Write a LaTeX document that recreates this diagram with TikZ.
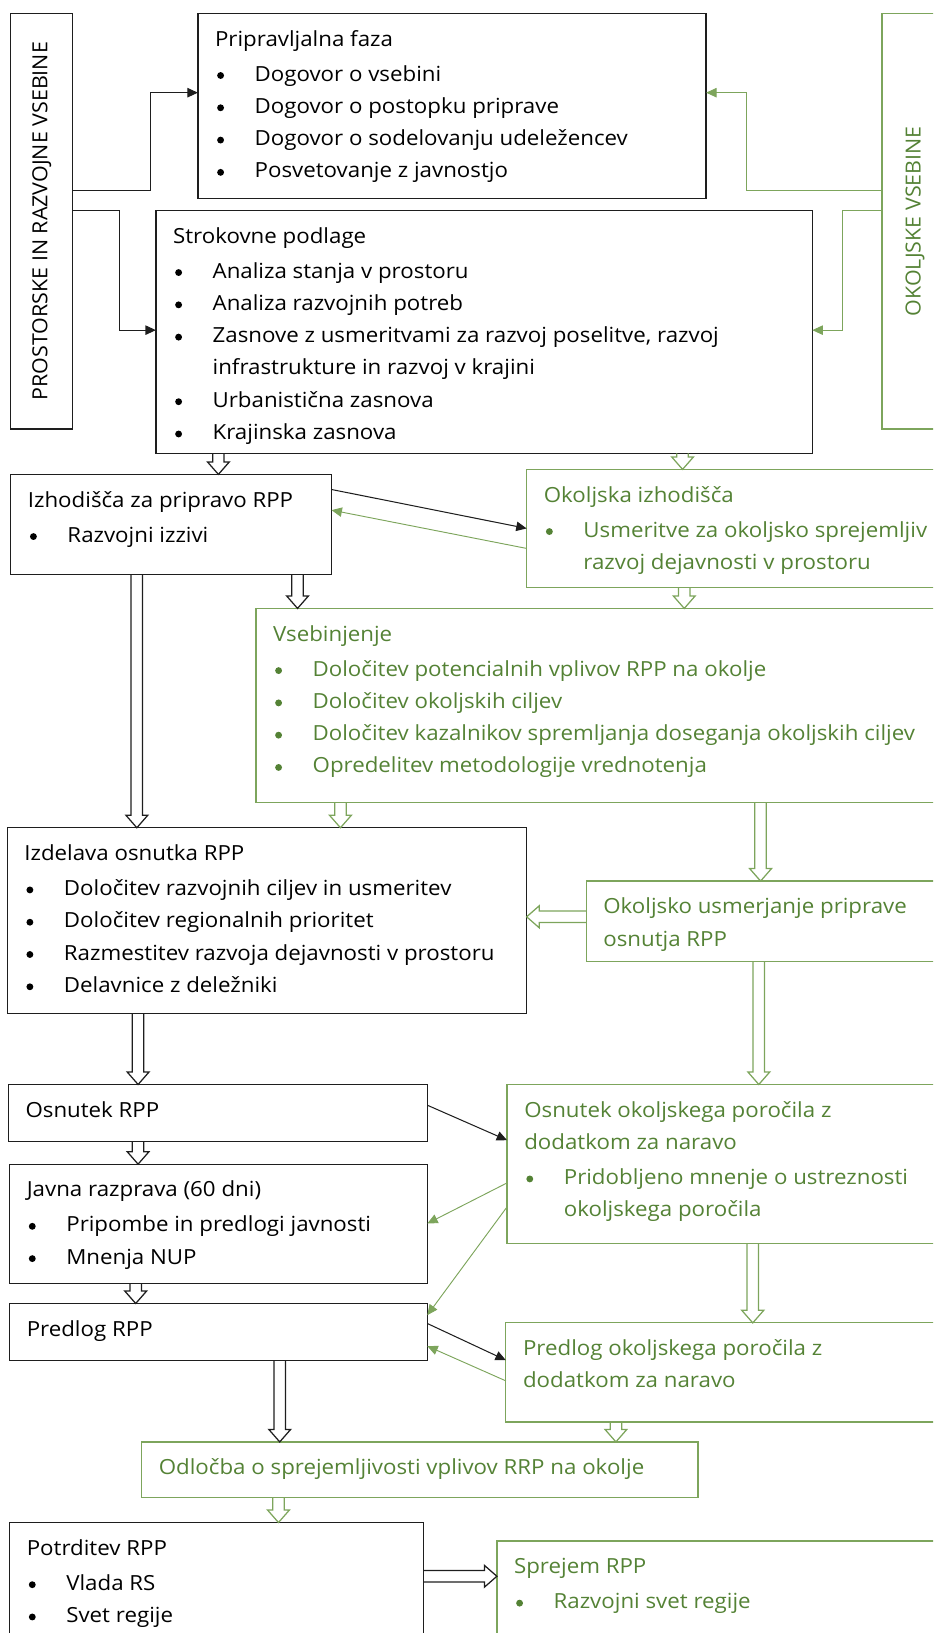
\documentclass[tikz,border=0pt]{standalone}
\usepackage{fontspec}
\setmainfont[FakeStretch=1.07]{Open Sans}
\newfontfamily\capsfont[FakeStretch=1.03]{Open Sans}
\usetikzlibrary{arrows.meta,calc}
\definecolor{gtext}{RGB}{84,130,53}
\definecolor{gline}{RGB}{125,165,92}
\definecolor{bline}{RGB}{30,30,30}

\newlength{\tgap}\setlength{\tgap}{11.5pt}
\newcommand{\strutA}{\rule{0pt}{20pt}}
\newcommand{\bul}{\raisebox{2pt}{\tikz\fill (0,0) circle (3.3pt);}}
\newcommand{\bxc}[3]{\begin{minipage}[c][#2pt][t]{#1pt}\fontsize{20pt}{31pt}\selectfont\setlength{\parindent}{0pt}\setlength{\parskip}{0pt}\setlength{\leftskip}{16.5pt}\rightskip=0pt plus 1fil minus 1000pt\relax\vspace*{\tgap}#3\par\end{minipage}}
\newcommand{\ttl}[1]{\strutA #1\par\vspace{2.5pt}}
\newcommand{\itm}[1]{\hangindent=38pt\hangafter=1\strutA\makebox[38pt][l]{\hspace{2pt}\bul}#1\par}

\tikzset{
  box/.style={anchor=north west, inner sep=0pt, outer sep=0pt, line width=1.2pt},
  bbox/.style={box, draw=bline, text=black},
  gbox/.style={box, draw=gline, text=gtext},
  bconn/.style={draw=bline, line width=1pt, -{Triangle[length=10pt,width=9pt]}},
  gconn/.style={draw=gline, line width=0.9pt, -{Triangle[length=10pt,width=9pt]}},
  hol/.style={line width=1.2pt, line join=miter},
  hdown/.style={hol, to path={let \p1=(\tikztostart), \p2=(\tikztotarget) in
    (\x1-5.5pt,\y1) -- (\x1-5.5pt,\y2+12pt) -- (\x1-10.5pt,\y2+12pt) -- (\x1,\y2)
    -- (\x1+10.5pt,\y2+12pt) -- (\x1+5.5pt,\y2+12pt) -- (\x1+5.5pt,\y1)}},
  hright/.style={hol, to path={let \p1=(\tikztostart), \p2=(\tikztotarget) in
    (\x1,\y1+5.5pt) -- (\x2-12pt,\y1+5.5pt) -- (\x2-12pt,\y1+10.5pt) -- (\x2,\y1)
    -- (\x2-12pt,\y1-10.5pt) -- (\x2-12pt,\y1-5.5pt) -- (\x1,\y1-5.5pt)}},
  hleft/.style={hol, to path={let \p1=(\tikztostart), \p2=(\tikztotarget) in
    (\x1,\y1+5.5pt) -- (\x2+12pt,\y1+5.5pt) -- (\x2+12pt,\y1+10.5pt) -- (\x2,\y1)
    -- (\x2+12pt,\y1-10.5pt) -- (\x2+12pt,\y1-5.5pt) -- (\x1,\y1-5.5pt)}},
}

\begin{document}
\begin{tikzpicture}[x=1pt,y=-1pt]
\useasboundingbox (0,0) rectangle (896,1568);
\clip (0,0) rectangle (896,1568);

% side boxes
\node[bbox, minimum width=59.4pt, minimum height=399.2pt] (leftv) at (10.3,12.8)
  {\rotatebox{90}{\capsfont\fontsize{20pt}{22pt}\selectfont PROSTORSKE IN RAZVOJNE VSEBINE}};
\node[gbox, minimum width=63pt, minimum height=399.2pt] (rightv) at (847,12.8)
  {\rotatebox{90}{\capsfont\fontsize{20pt}{22pt}\selectfont OKOLJSKE VSEBINE}};

% main boxes
\node[bbox] (pripr) at (190,12.8) {\bxc{488}{177.7}{\ttl{Pripravljalna faza}
  \itm{Dogovor o vsebini}\itm{Dogovor o postopku priprave}
  \itm{Dogovor o sodelovanju udeležencev}\itm{Posvetovanje z javnostjo}}};

\node[bbox] (strok) at (149.7,202) {\bxc{630.3}{233.4}{\ttl{Strokovne podlage}
  \itm{Analiza stanja v prostoru}\itm{Analiza razvojnih potreb}
  \itm{Zasnove z usmeritvami za razvoj poselitve, razvoj\\infrastrukture in razvoj v krajini}
  \itm{Urbanistična zasnova}\itm{Krajinska zasnova}}};

\node[bbox] (izh) at (10.3,455.5) {\bxc{308}{96.1}{\ttl{Izhodišča za pripravo RPP}
  \itm{Razvojni izzivi}}};

\node[gbox] (okizh) at (505.7,450.7) {\bxc{404.3}{113.7}{\ttl{Okoljska izhodišča}
  \itm{Usmeritve za okoljsko sprejemljiv\\razvoj dejavnosti v prostoru}}};

\node[gbox] (vseb) at (245.7,584.2) {\bxc{664.3}{186.6}{\ttl{Vsebinjenje}
  \itm{Določitev potencialnih vplivov RPP na okolje}\itm{Določitev okoljskih ciljev}
  \itm{Določitev kazalnikov spremljanja doseganja okoljskih ciljev}
  \itm{Opredelitev metodologije vrednotenja}}};

\node[bbox] (izd) at (6.9,794.8) {\bxc{498.8}{178.2}{\ttl{Izdelava osnutka RPP}
  \itm{Določitev razvojnih ciljev in usmeritev}\itm{Določitev regionalnih prioritet}
  \itm{Razmestitev razvoja dejavnosti v prostoru}\itm{Delavnice z deležniki}}};

\node[gbox] (okusm) at (562.8,846) {\bxc{347.2}{77.5}{\ttl{Okoljsko usmerjanje priprave\\osnutja RPP}}};

\node[bbox] (osn) at (8,1041.3) {\bxc{402.3}{54.4}{\ttl{Osnutek RPP}}};

\node[gbox] (osnok) at (486.9,1041.3) {\bxc{423.1}{152.7}{\ttl{Osnutek okoljskega poročila z\\dodatkom za naravo}
  \itm{Pridobljeno mnenje o ustreznosti\\okoljskega poročila}}};

\node[bbox] (javna) at (9.2,1117.8) {\bxc{401.1}{114.6}{\ttl{Javna razprava (60 dni)}
  \itm{Pripombe in predlogi javnosti}\itm{Mnenja NUP}}};

\node[bbox] (pred) at (9.2,1251.6) {\bxc{401.1}{54.4}{\ttl{Predlog RPP}}};

\node[gbox] (predok) at (485.7,1270.2) {\bxc{424.3}{95.1}{\ttl{Predlog okoljskega poročila z\\dodatkom za naravo}}};

\node[gbox] (odl) at (136,1384.5) {\bxc{534.3}{53.4}{\ttl{Odločba o sprejemljivosti vplivov RRP na okolje}}};

\node[bbox] (potr) at (9.2,1461.9) {\bxc{397.1}{140}{\ttl{Potrditev RPP}
  \itm{Vlada RS}\itm{Svet regije}}};

\node[gbox] (sprej) at (477.1,1479.6) {\bxc{432.9}{140}{\ttl{Sprejem RPP}
  \itm{Razvojni svet regije}}};

% elbow connectors from side boxes
\draw[bconn] (leftv.east |- 0,183) -| (144.6,89) -- (pripr.west |- 0,89);
\draw[bconn] (leftv.east |- 0,201.7) -| (114.3,317) -- (strok.west |- 0,317);
\draw[gconn] (rightv.west |- 0,183) -| (717,89) -- (pripr.east |- 0,89);
\draw[gconn] (rightv.west |- 0,202) -| (808.6,317) -- (strok.east |- 0,317);

% diagonal connectors
\draw[bconn] (izh.east |- 0,470) -- (okizh.west |- 0,507.4);
\draw[gconn] (okizh.west |- 0,526.6) -- (izh.east |- 0,489.8);
\draw[bconn] (osn.east |- 0,1061.2) -- (osnok.west |- 0,1094.8);
\draw[gconn] (osnok.west |- 0,1135.8) -- (javna.east |- 0,1174.8);
\draw[gconn] (osnok.west |- 0,1158.8) -- (pred.east |- 0,1262.8);
\draw[bconn] (pred.east |- 0,1270.8) -- (predok.west |- 0,1306);
\draw[gconn] (predok.west |- 0,1325.9) -- (pred.east |- 0,1292.5);

% hollow block arrows
\draw[hdown, draw=bline] (strok.south -| 209.7,0) to (izh.north -| 209.7,0);
\draw[hdown, draw=gline] (strok.south -| 655.4,0) to (okizh.north -| 655.4,0);
\draw[hdown, draw=bline] (izh.south -| 131.4,0) to (izd.north -| 131.4,0);
\draw[hdown, draw=bline] (izh.south -| 285.7,0) to (vseb.north -| 285.7,0);
\draw[hdown, draw=gline] (okizh.south -| 657,0) to (vseb.north -| 657,0);
\draw[hdown, draw=gline] (vseb.south -| 326.9,0) to (izd.north -| 326.9,0);
\draw[hdown, draw=gline] (vseb.south -| 730.3,0) to (okusm.north -| 730.3,0);
\draw[hleft, draw=gline] (okusm.west |- 0,880.3) to (izd.east |- 0,880.3);
\draw[hdown, draw=gline] (okusm.south -| 728.6,0) to (osnok.north -| 728.6,0);
\draw[hdown, draw=bline] (izd.south -| 132.6,0) to (osn.north -| 132.6,0);
\draw[hdown, draw=bline] (osn.south -| 132.6,0) to (javna.north -| 132.6,0);
\draw[hdown, draw=gline] (osnok.south -| 722.8,0) to (predok.north -| 722.8,0);
\draw[hdown, draw=bline] (javna.south -| 130.3,0) to (pred.north -| 130.3,0);
\draw[hdown, draw=bline] (pred.south -| 268.6,0) to (odl.north -| 268.6,0);
\draw[hdown, draw=gline] (predok.south -| 591.4,0) to (odl.north -| 591.4,0);
\draw[hdown, draw=gline] (odl.south -| 267.4,0) to (potr.north -| 267.4,0);
\draw[hright, draw=bline] (potr.east |- 0,1513.5) to (sprej.west |- 0,1513.5);
\end{tikzpicture}
\end{document}
